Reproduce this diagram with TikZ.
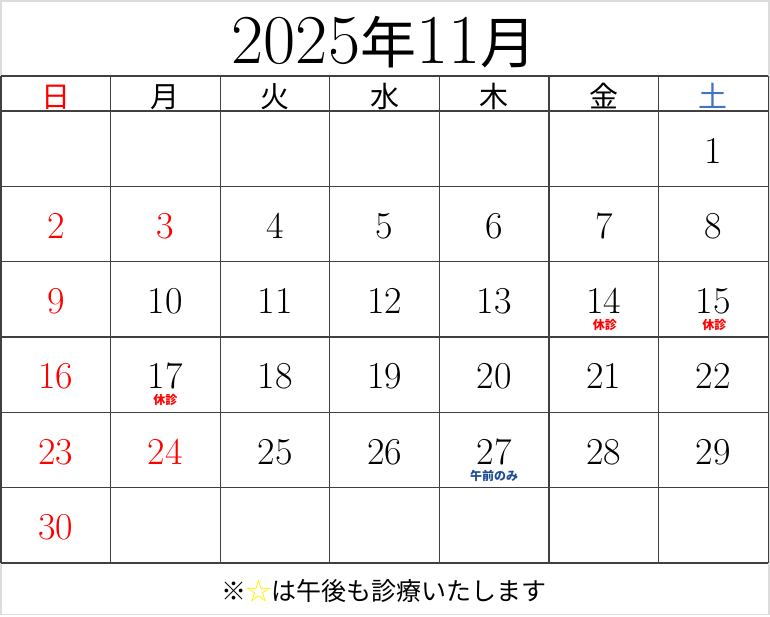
\documentclass[tikz,border=0pt]{standalone}
\usepackage{fontspec}
\newfontfamily\cjk{Noto Sans CJK JP}
\usetikzlibrary{calc}
\definecolor{sunred}{RGB}{255,0,0}
\definecolor{satblue}{RGB}{68,114,196}
\definecolor{memoblue}{RGB}{31,78,153}
\definecolor{staryellow}{RGB}{255,240,0}
\definecolor{rulegray}{RGB}{64,64,64}
\definecolor{framegray}{RGB}{220,220,220}
\newcommand\titlejp[1]{{\cjk\fontsize{56}{56}\selectfont #1}}

\begin{document}
\begin{tikzpicture}
[x=1pt, y=-1pt,
    every node/.style={inner sep=0pt, anchor=base},
    daynum/.style={font=\fontsize{38}{38}\selectfont},
    weekday/.style={font=\cjk\fontsize{29}{29}\selectfont},
    memo/.style={font=\cjk\bfseries\fontsize{12}{12}\selectfont},
    tableline/.style={draw=rulegray, line width=1.2pt}]
    \useasboundingbox (0,0) rectangle (770,616);
    \draw[framegray, line width=1.5pt] (0.75,0.75) rectangle (769,614.5);
    % title
    \node (title) at (384,63) {\fontsize{70}{70}\selectfont 2025\titlejp{年}11\titlejp{月}};
    % table
    \foreach \j in {0,...,7}
        \draw[tableline] ({1+\j*109.6},76) -- ({1+\j*109.6},563);
    \draw[tableline] (1,76) -- (768.2,76);
    \foreach \i in {0,...,6}
        \draw[tableline] (1,{111+\i*75.33}) -- (768.2,{111+\i*75.33});
    % weekdays
    \foreach \w/\wcol [count=\j from 0] in {日/sunred,月/black,火/black,水/black,木/black,金/black,土/satblue}
        \node[weekday, text=\wcol] (w\j) at ({1+(\j+0.5)*109.6},107) {\w};
    % days
    \foreach \d in {1,...,30}{
        \pgfmathtruncatemacro\col{mod(\d+5,7)}
        \pgfmathtruncatemacro\row{div(\d+5,7)}
        \pgfmathtruncatemacro\isred{(\col==0)||(\d==3)||(\d==24)}
        \ifnum\isred=1 \def\dcol{sunred}\else\def\dcol{black}\fi
        \node[daynum, text=\dcol] (d\d) at ({1+(\col+0.5)*109.6},{163+\row*75.33}) {\d};
    }
    \node[memo, text=sunred] (m14) at ($(d14.base)+(1,16)$) {休診};
    \node[memo, text=sunred] (m15) at ($(d15.base)+(1,16)$) {休診};
    \node[memo, text=sunred] (m17) at ($(d17.base)+(0,16)$) {休診};
    \node[memo, text=memoblue] (m27) at ($(d27.base)+(0,16)$) {午前のみ};
    % note
    \node[font=\cjk\fontsize{25}{25}\selectfont] (note) at (384,600) {※\textcolor{staryellow}{☆}は午後も診療いたします};
\end{tikzpicture}
\end{document}
